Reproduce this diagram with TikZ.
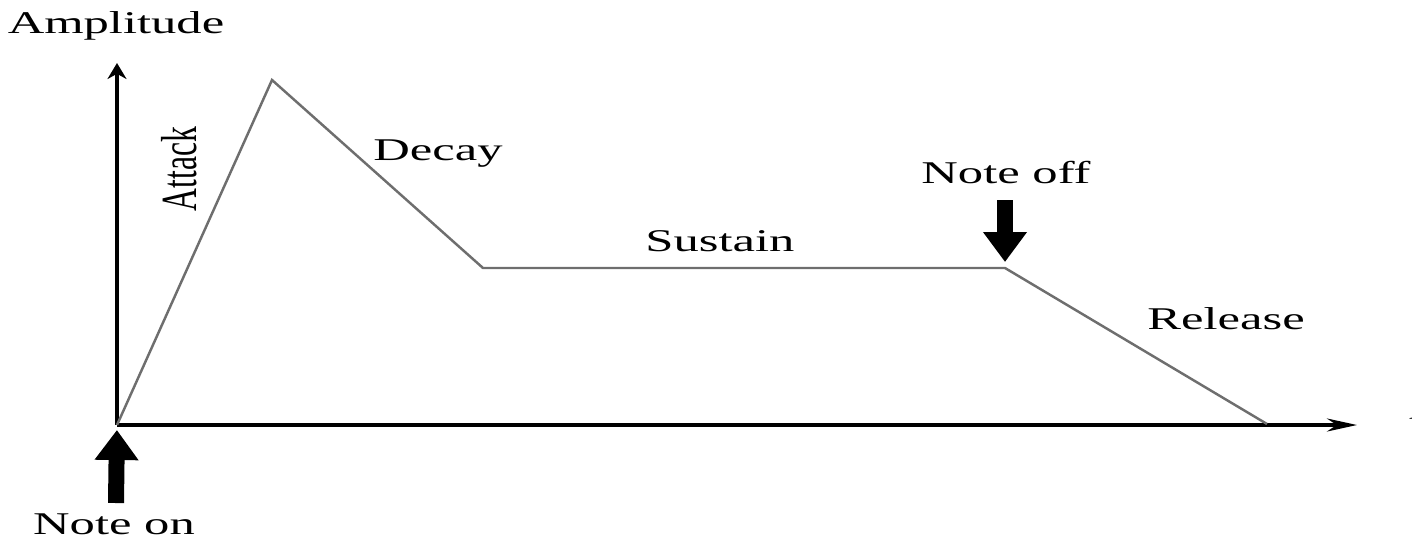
\documentclass[tikz,border=0pt]{standalone}
\usepackage{fontspec}
\setmainfont{Liberation Serif}
\usepackage{tikz}
\usetikzlibrary{arrows.meta}
\definecolor{Env}{HTML}{6E6E6E}

\begin{document}
\begin{tikzpicture}[
      axis/.style={line width=1pt,black},
      env/.style={line width=0.7pt,draw=Env},
      note/.style={line width=0.16cm,-{Triangle[length=0.3cm,width=0.42cm]}},
      lbl/.style={font=\fontsize{9}{10}\selectfont,xscale=1.6,anchor=base,inner sep=0pt}]
      \useasboundingbox (0,0) rectangle (14.12,5.36);
      \coordinate (O) at (1.17,1.11);
      \coordinate (ytop) at (1.17,4.73);
      \coordinate (xend) at (13.57,1.11);
      \coordinate (peak) at (2.72,4.56);
      \coordinate (dec) at (4.83,2.68);
      \coordinate (sus) at (10.05,2.68);
      \coordinate (rel) at (12.67,1.12);
      \coordinate (onbot) at (1.16,0.33);
      \coordinate (offtop) at (10.05,3.36);
      \draw[axis,-{Stealth[length=1.6mm,width=1.9mm]}] (O) -- (ytop);
      \draw[axis,-{Stealth[length=3mm,width=1.3mm]}] (O) -- (xend);
      \draw[env] (O) -- (peak) -- (dec) -- (sus) -- (rel);
      \draw[note,shorten >=0.05cm] (onbot) -- (O);
      \draw[note,shorten >=0.06cm] (offtop) -- (sus);
      \node[lbl] (amp) at (1.16,5.03) {Amplitude};
      \node[lbl,anchor=center,rotate=90] (attack) at (1.79,3.67) {Attack};
      \node[lbl] (decay) at (4.38,3.76) {Decay};
      \node[lbl] (sustain) at (7.20,2.85) {Sustain};
      \node[lbl] (noteoff) at (10.06,3.53) {Note off};
      \node[lbl] (release) at (12.26,2.07) {Release};
      \node[lbl] (noteon) at (1.14,0.02) {Note on};
      \node[lbl,anchor=base west] (t) at (14.08,1.04) {t};
    \end{tikzpicture}
\end{document}
